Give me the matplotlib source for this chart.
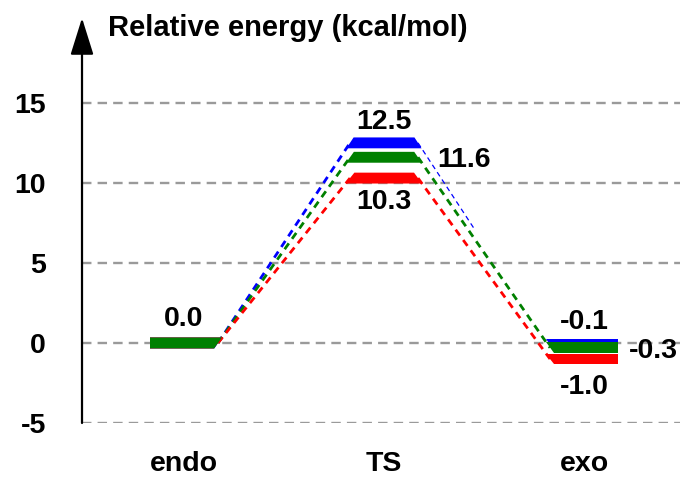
import numpy as np
import matplotlib
matplotlib.use('Agg')
import matplotlib.pyplot as plt
from matplotlib.patches import Polygon

plt.rcParams['font.family'] = ['Liberation Sans', 'DejaVu Sans']
plt.rcParams['font.weight'] = 'bold'

# Data
states = ['endo', 'TS', 'exo']
series_colors = ['blue', 'green', 'red']
blue_energy = [0.0, 12.5, -0.1]
green_energy = [0.0, 11.6, -0.3]
red_energy = [0.0, 10.3, -1.0]
y_ticks = [-5, 0, 5, 10, 15]

energies = {'blue': blue_energy, 'green': green_energy, 'red': red_energy}

# level label: (series, state index, text, offset in points, ha, va)
level_labels = [
    ('green', 0, '0.0', (0, 8), 'center', 'bottom'),
    ('blue', 1, '12.5', (0, 6), 'center', 'bottom'),
    ('green', 1, '11.6', (14, -2), 'left', 'center'),
    ('red', 1, '10.3', (0, -8), 'center', 'top'),
    ('blue', 2, '-0.1', (0, 7), 'center', 'bottom'),
    ('green', 2, '-0.3', (8, -2), 'left', 'center'),
    ('red', 2, '-1.0', (0, -11), 'center', 'top'),
]

FS = 20.5
half_w = 0.17   # half width of a level bar (data x)
thick = 0.68    # bar thickness (data y)
xpos = np.arange(len(states))

fig = plt.figure(figsize=(6.8, 4.79), dpi=100)
ax = fig.add_axes([0.1206, 0.1169, 0.8794, 0.8455])
ax.set_xlim(-0.51, 2.48)
ax.set_ylim(-5, 20.3)

# grid lines
for yv in y_ticks:
    ax.axhline(yv, color='#9a9a9a', lw=1.7, ls=(0, (4, 2.6)), zorder=1)

zorders = {'blue': 3, 'red': 4, 'green': 5}

for col in series_colors:
    e = energies[col]
    # connectors
    for i in range(len(states) - 1):
        x0, y0 = xpos[i] + half_w, e[i]
        x1, y1 = xpos[i + 1] - half_w, e[i + 1]
        if col == 'blue' and i == 1:
            # faint short stub in the original
            ax.plot([x0, x0 + 0.42 * (x1 - x0)], [y0, y0 + 0.42 * (y1 - y0)],
                    color=col, lw=0.9, ls=(0, (4, 3)), zorder=2)
            continue
        ax.plot([x0, x1], [y0, y1], color=col, lw=2.0, ls=(0, (2.6, 2.0)), zorder=2)
    # levels as sheared bars
    for i in range(len(states)):
        xl, xr, y = xpos[i] - half_w, xpos[i] + half_w, e[i]
        sl = 0.0
        sr = 0.0
        if i > 0:
            sl = (xl - (xpos[i - 1] + half_w)) / (y - e[i - 1])
        if i < len(states) - 1:
            sr = ((xpos[i + 1] - half_w) - xr) / (e[i + 1] - y)
        h = thick / 2
        poly = [(xl + h * sl, y + h), (xr + h * sr, y + h),
                (xr - h * sr, y - h), (xl - h * sl, y - h)]
        ax.add_patch(Polygon(poly, closed=True, facecolor=col, edgecolor='none',
                             zorder=zorders[col]))

for col, i, txt, off, ha, va in level_labels:
    ax.annotate(txt, xy=(xpos[i] + (half_w if ha == 'left' else 0), energies[col][i]),
                xytext=off, textcoords='offset points', ha=ha, va=va,
                fontsize=FS, fontweight='bold', zorder=6)

# axes styling
for s in ['top', 'right', 'bottom', 'left']:
    ax.spines[s].set_visible(False)
ax.annotate('', xy=(0, 1), xytext=(0, 0), xycoords='axes fraction',
            arrowprops=dict(arrowstyle='-|>,head_length=2.3,head_width=0.72',
                            mutation_scale=10, lw=1.6, color='black',
                            shrinkA=0, shrinkB=0))

ax.set_yticks(y_ticks)
ax.set_yticklabels([str(v) for v in y_ticks], fontsize=FS, fontweight='bold')
ax.set_xticks(xpos)
ax.set_xticklabels(states, fontsize=FS, fontweight='bold')
ax.tick_params(axis='y', length=0, pad=26)
ax.tick_params(axis='x', length=0, pad=20.5)

fig.text(108 / 680, 1 - 28 / 479, 'Relative energy (kcal/mol)', fontsize=21,
         fontweight='bold', ha='left', va='center')

fig.savefig('out.png', dpi=100)
